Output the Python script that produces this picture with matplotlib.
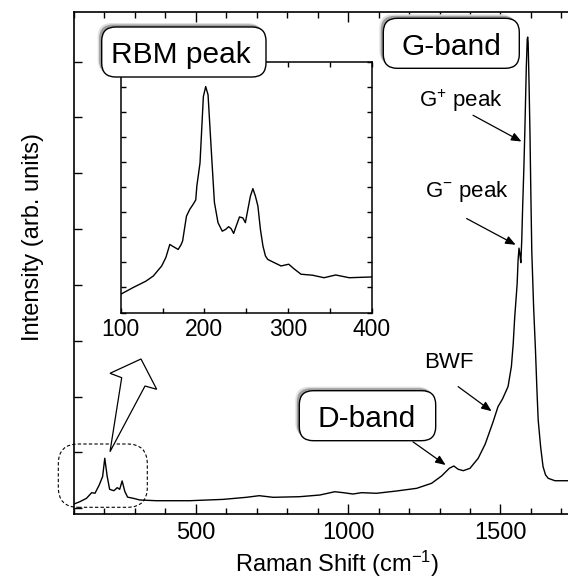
import numpy as np
import matplotlib
matplotlib.use('Agg')
import matplotlib.pyplot as plt
from matplotlib.patches import FancyBboxPatch, Polygon
from matplotlib.ticker import MultipleLocator

plt.rcParams['font.family'] = ['Liberation Sans', 'DejaVu Sans']
plt.rcParams['mathtext.fontset'] = 'custom'
plt.rcParams['mathtext.rm'] = 'Liberation Sans'
plt.rcParams['mathtext.it'] = 'Liberation Sans:italic'
plt.rcParams['mathtext.sf'] = 'Liberation Sans'

# full spectrum (cm^-1, arb. units)
raman_shift = [100, 119, 141, 158, 169, 183, 194, 201, 209, 217, 231, 242, 250,
               258, 267, 276, 294, 316, 371, 480, 590, 666, 708, 754, 841, 907,
               956, 984, 1016, 1044, 1093, 1159, 1225, 1274, 1307, 1332, 1347,
               1361, 1378, 1400, 1427, 1450, 1476, 1492, 1507, 1525, 1536, 1542,
               1547, 1552, 1555, 1558, 1561, 1564, 1567, 1570, 1573, 1577, 1580,
               1585, 1588, 1589.5, 1591, 1594, 1597, 1600, 1603, 1609, 1615,
               1620, 1624, 1632, 1640, 1648, 1657, 1679, 1720, 1800]
intensity = [0.077, 0.118, 0.179, 0.28, 0.27, 0.42, 0.57, 0.896, 0.57, 0.34,
             0.315, 0.37, 0.34, 0.49, 0.30, 0.20, 0.18, 0.149, 0.136, 0.136,
             0.16, 0.197, 0.226, 0.197, 0.208, 0.238, 0.297, 0.28, 0.256, 0.28,
             0.269, 0.31, 0.358, 0.448, 0.58, 0.716, 0.758, 0.70, 0.674, 0.716,
             0.896, 1.15, 1.55, 1.82, 1.96, 2.18, 2.54, 2.95, 3.43, 3.8, 4.03,
             4.45, 4.66, 4.55, 4.40, 4.8, 5.4, 6.1, 6.72, 7.9, 8.4, 8.44, 8.35,
             7.6, 6.72, 5.6, 4.6, 3.6, 2.84, 2.1, 1.58, 1.10, 0.745, 0.6, 0.537,
             0.494, 0.494, 0.49]

# RBM region (inset)
rbm_shift = [100, 115, 130, 139, 149, 154, 158.7, 162, 168.7, 172, 174, 178.6,
             182.5, 186.5, 189.7, 191, 194.8, 198.8, 201.6, 204.4, 208.7, 212,
             216.3, 221.4, 225.4, 229, 232, 235, 238, 242, 246, 249, 252, 255,
             258, 261, 264, 267, 270, 273, 275.8, 283.7, 291.7, 300.8, 307,
             315.5, 329.4, 343, 357, 373, 400]
rbm_intensity = [0.73, 1.0, 1.25, 1.46, 1.86, 2.2, 2.72, 2.65, 2.52, 2.7, 2.86,
                 3.85, 4.12, 4.32, 4.5, 5.05, 5.98, 8.63, 9.03, 8.7, 6.24, 4.4,
                 3.59, 3.25, 3.32, 3.43, 3.35, 3.16, 3.45, 3.82, 3.78, 3.59,
                 4.12, 4.65, 4.95, 4.65, 4.25, 3.32, 2.66, 2.26, 2.12, 1.99,
                 1.86, 1.93, 1.75, 1.53, 1.49, 1.39, 1.50, 1.39, 1.42]

W, H = 568, 583
fig = plt.figure(figsize=(W / 100, H / 100), dpi=100)


def px(x, y):
    # pixel position (from top-left) -> figure inches
    return (x / 100.0, (H - y) / 100.0)


# main axes (runs past the right edge of the picture)
ax = fig.add_axes([74 / W, 1 - 513.5 / H, 517.8 / W, 501.2 / H])
ax.plot(raman_shift, intensity, color='black', lw=1.0)
ax.set_xlim(100, 1800)
ax.set_ylim(-0.093, 8.884)
ax.xaxis.set_major_locator(MultipleLocator(500))
ax.xaxis.set_minor_locator(MultipleLocator(100))
ax.yaxis.set_major_locator(MultipleLocator(1))
ax.set_yticklabels([])
ax.tick_params(axis='both', which='both', direction='in', top=True, width=1.0)
ax.tick_params(axis='x', which='major', length=7.5, labelsize=17, pad=6)
ax.tick_params(axis='x', which='minor', length=4.5)
ax.tick_params(axis='y', which='major', length=5.5)
for s in ax.spines.values():
    s.set_linewidth(1.2)
ax.set_xlabel(r'Raman Shift (cm$^{-1}$)', fontsize=17)
ax.xaxis.set_label_coords(0.508, -0.1)
ax.xaxis.label.set_va('center')
ax.set_ylabel('Intensity (arb. units)', fontsize=17)
ax.yaxis.set_label_coords(-0.079, 0.552)
ax.yaxis.label.set_va('center')

# arrows pointing at peaks
arrow = dict(arrowstyle='-|>,head_length=0.6,head_width=0.25', lw=0.9,
             color='black', mutation_scale=10, shrinkA=0, shrinkB=0)
ax.annotate('', xy=(1569, 6.57), xytext=(1410, 7.04), arrowprops=arrow)
ax.annotate('', xy=(1550, 4.72), xytext=(1389, 5.19), arrowprops=arrow)
ax.annotate('', xy=(1471, 1.74), xytext=(1361, 2.18), arrowprops=arrow)
ax.annotate('', xy=(1320, 0.776), xytext=(1213, 1.19), arrowprops=arrow)
ax.text(1370, 7.30, r'G$^{+}$ peak', fontsize=16, ha='center', va='center')
ax.text(1389, 5.67, r'G$^{-}$ peak', fontsize=16, ha='center', va='center')
ax.text(1331, 2.62, 'BWF', fontsize=16, ha='center', va='center')

# inset with the RBM region
ins = fig.add_axes([120.7 / W, 1 - 312.5 / H, 251 / W, 250.2 / H])
ins.plot(rbm_shift, rbm_intensity, color='black', lw=1.0)
ins.set_xlim(100, 400)
ins.set_ylim(0, 10)
ins.xaxis.set_major_locator(MultipleLocator(100))
ins.xaxis.set_minor_locator(MultipleLocator(50))
ins.yaxis.set_major_locator(MultipleLocator(1))
ins.set_yticklabels([])
ins.tick_params(axis='both', which='both', direction='in', top=True,
                right=True, length=3.5, width=1.0)
ins.tick_params(axis='x', labelsize=16.5, pad=4)
for s in ins.spines.values():
    s.set_linewidth(1.1)

# dashed outline round the RBM peaks of the main curve
x0, y0 = px(58.3, 507.3)
fig.add_artist(FancyBboxPatch((x0, y0), 0.89, 0.633,
                              boxstyle='round,pad=0,rounding_size=0.2',
                              fc='none', ec='black', lw=0.8,
                              ls=(0, (3, 2)), transform=fig.dpi_scale_trans,
                              zorder=3))

# hollow arrow from outline to inset
pts = [px(110, 451.7), px(145, 386), px(156.7, 389.3), px(141, 359),
       px(110, 373.3), px(121.7, 377.7)]
fig.add_artist(Polygon(pts, closed=True, fc='white', ec='black', lw=0.9,
                       transform=fig.dpi_scale_trans, zorder=3))


def label_box(x0, y0, x1, y1, text, tx, ty):
    w, h = (x1 - x0) / 100.0, (y1 - y0) / 100.0
    style = 'round,pad=0,rounding_size=0.14'
    for off, c in [(4, '0.88'), (2.5, '0.62')]:
        fig.add_artist(FancyBboxPatch(px(x0 - off, y1 - off), w, h,
                                      boxstyle=style, fc=c, ec='none',
                                      transform=fig.dpi_scale_trans, zorder=4))
    fig.add_artist(FancyBboxPatch(px(x0, y1), w, h, boxstyle=style,
                                  fc='white', ec='black', lw=1.0,
                                  transform=fig.dpi_scale_trans, zorder=5))
    fig.text(*px(tx, ty), text, transform=fig.dpi_scale_trans, ha='center',
             va='baseline', fontsize=21.5, zorder=6)


label_box(101.7, 27, 266, 77, 'RBM peak', 181, 63.3)
label_box(383.3, 18.3, 519.3, 68.3, 'G-band', 451, 55)
label_box(299.3, 390.7, 435.7, 440.7, 'D-band', 367, 426.7)

fig.savefig('out.png', dpi=100)
